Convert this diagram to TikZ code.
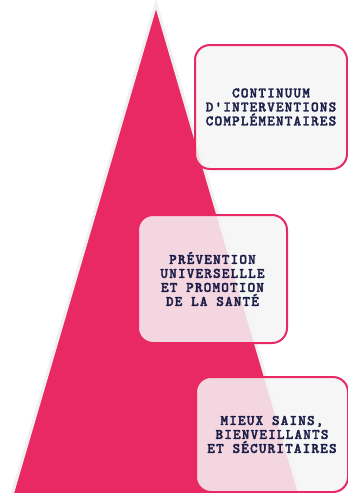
\documentclass[tikz,border=0pt]{standalone}
\usepackage{fontspec}
\newfontfamily\levelfont{lmmonolt10-bold}[Extension=.otf,LetterSpace=8,FakeBold=2.2]
\definecolor{santepink}{RGB}{232,41,100}
\definecolor{santenavy}{RGB}{28,30,72}

\begin{document}
\begin{tikzpicture}
[x=1pt,y=-1pt,%
  levelbox/.style={draw=santepink,line width=2pt,rounded corners=15pt,%
    fill=gray!8,fill opacity=0.85,text opacity=1,text=santenavy,%
    font=\levelfont\fontsize{14.5}{14}\selectfont,align=center,%
    inner sep=0pt,anchor=north west}]
\useasboundingbox (0,0) rectangle (348,493);
% triangle
\coordinate (apex) at (156,4);
\coordinate (baseL) at (12,495);
\coordinate (baseR) at (300,495);
\fill[santepink,draw=gray!12,line width=3pt,line join=miter] (apex) -- (baseL) -- (baseR) -- cycle;
% levels
\node[levelbox,minimum width=152pt,minimum height=124pt] (continuum) at (194,44)
  {CONTINUUM\\D'INTERVENTIONS\\COMPLÉMENTAIRES};
\node[levelbox,minimum width=149pt,minimum height=128pt] (prevention) at (137,214)
  {PRÉVENTION\\UNIVERSELLLE\\ET PROMOTION\\DE LA SANTÉ};
\node[levelbox,minimum width=152pt,minimum height=115pt] (milieux) at (195,376)
  {MIEUX SAINS,\\BIENVEILLANTS\\ET SÉCURITAIRES};
\end{tikzpicture}
\end{document}
